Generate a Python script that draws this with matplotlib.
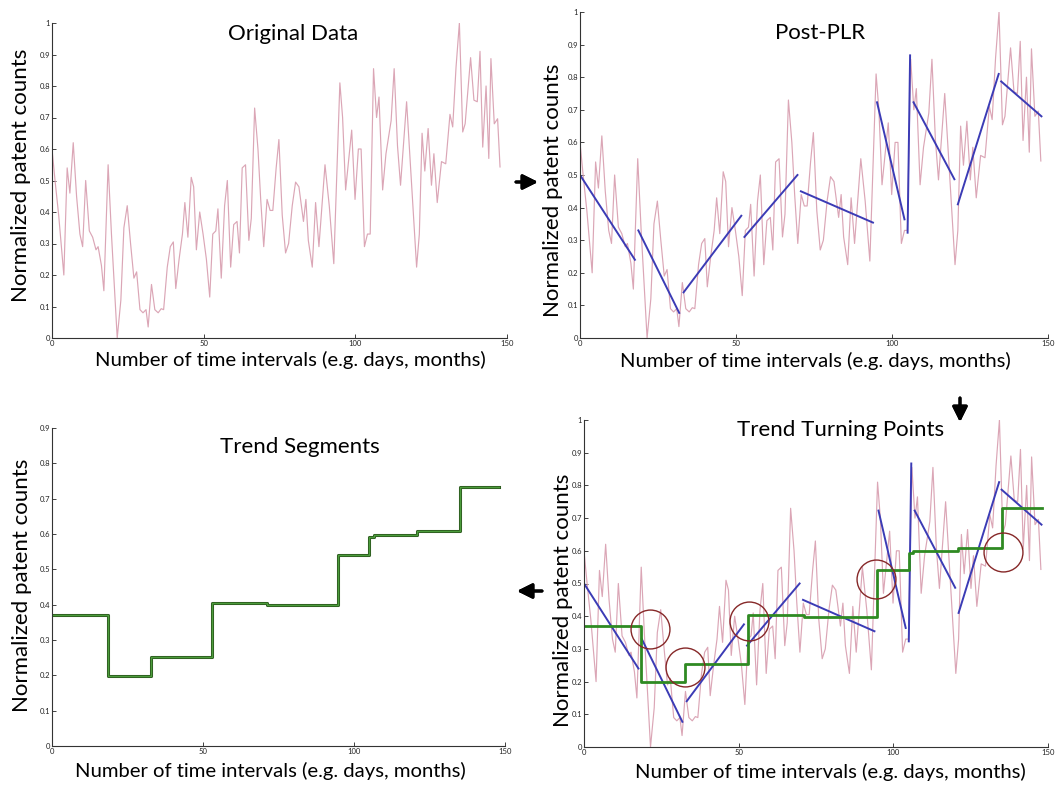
import numpy as np
import matplotlib.pyplot as plt

plt.rcParams['font.family'] = ['Lato', 'DejaVu Sans']

# original (normalized) series
t = [0, 1.0, 2.2, 3.9, 5.0, 5.9, 7.0, 8.1, 9.2, 10.1, 11.1, 12.3, 13.4, 14.5, 15.2,
     16.3, 17.1, 18.5, 19.6, 20.7, 21.5, 22.7, 23.7, 24.8, 25.9, 27.0, 27.9, 29.0,
     30.0, 31.0, 31.7, 32.8, 33.9, 35.0, 36.0, 36.8, 38.0, 39.0, 40.0, 40.8, 41.9,
     43.0, 43.8, 44.8, 45.9, 46.7, 47.6, 48.7, 49.8, 50.9, 52.0, 53.0, 54.0, 54.7,
     55.8, 56.9, 57.8, 58.9, 59.9, 61.0, 61.8, 62.7, 63.8, 64.9, 65.7, 66.8, 67.9,
     68.8, 69.8, 70.9, 71.9, 72.8, 73.9, 74.8, 75.9, 77.0, 78.0, 79.2, 80.3, 81.4,
     82.9, 83.7, 84.5, 85.8, 86.9, 88.0, 90.0, 91.4, 92.9, 94.9, 95.8, 96.8, 98.8,
     99.9, 101.0, 101.9, 103.0, 104.0, 104.9, 106.0, 107.0, 107.8, 109.0, 110.1,
     111.8, 112.8, 113.9, 114.9, 116.9, 118.6, 120.2, 121.1, 122.0, 122.9, 124.0,
     125.1, 125.9, 127.0, 128.4, 129.8, 131.2, 132.1, 133.2, 134.3, 135.4, 136.2,
     138.0, 139.1, 140.2, 141.1, 142.0, 143.1, 144.0, 144.7, 145.8, 146.9, 147.7]
counts = [0.60, 0.50, 0.39, 0.20, 0.54, 0.46, 0.62, 0.45, 0.33, 0.29, 0.50, 0.34, 0.32,
          0.28, 0.29, 0.23, 0.15, 0.55, 0.33, 0.14, 0.0, 0.12, 0.35, 0.42, 0.30, 0.19,
          0.21, 0.09, 0.08, 0.09, 0.035, 0.17, 0.09, 0.08, 0.093, 0.09, 0.225, 0.29,
          0.305, 0.157, 0.25, 0.33, 0.43, 0.32, 0.51, 0.48, 0.28, 0.40, 0.33, 0.25,
          0.13, 0.33, 0.34, 0.41, 0.19, 0.42, 0.50, 0.225, 0.36, 0.37, 0.27, 0.54,
          0.55, 0.31, 0.38, 0.73, 0.60, 0.44, 0.29, 0.44, 0.405, 0.405, 0.54, 0.63,
          0.39, 0.27, 0.30, 0.42, 0.495, 0.48, 0.37, 0.44, 0.31, 0.225, 0.43, 0.29,
          0.55, 0.42, 0.236, 0.81, 0.70, 0.47, 0.66, 0.44, 0.60, 0.60, 0.29, 0.33,
          0.33, 0.855, 0.70, 0.765, 0.47, 0.585, 0.69, 0.855, 0.61, 0.485, 0.75, 0.48,
          0.225, 0.33, 0.65, 0.53, 0.665, 0.485, 0.585, 0.43, 0.56, 0.553, 0.71, 0.67,
          0.86, 1.0, 0.654, 0.68, 0.89, 0.755, 0.75, 0.91, 0.606, 0.80, 0.57, 0.887,
          0.68, 0.696, 0.543]

# piecewise linear representation: (x0, y0, x1, y1)
plr_x0 = [0, 18.7, 33.2, 52.7, 70.8, 95.2, 105.0, 106.9, 121.1, 135.0]
plr_y0 = [0.50, 0.33, 0.14, 0.31, 0.45, 0.723, 0.323, 0.723, 0.41, 0.787]
plr_x1 = [17.6, 31.8, 51.7, 69.7, 93.9, 104.0, 105.8, 120.0, 134.2, 147.9]
plr_y1 = [0.24, 0.077, 0.375, 0.50, 0.354, 0.364, 0.867, 0.487, 0.81, 0.68]

# trend segments (step function)
seg_start = [0, 18.4, 32.7, 52.9, 71.1, 94.8, 105.0, 106.5, 121.0, 135.0]
seg_end = [18.4, 32.7, 52.9, 71.1, 94.8, 105.0, 106.5, 121.0, 135.0, 148.0]
seg_level = [0.371, 0.198, 0.253, 0.404, 0.399, 0.54, 0.592, 0.598, 0.609, 0.732]

# turning points (circled)
tp_x = [21.2, 32.5, 53.3, 94.3, 135.5]
tp_y = [0.362, 0.245, 0.385, 0.515, 0.597]

W, H = 1059, 786
fig = plt.figure(figsize=(W / 100, H / 100), dpi=100)

def box(l, r, b, t):
    return [l / W, 1 - b / H, (r - l) / W, (b - t) / H]

pink = '#dba6b6'
blue = '#3b3bb5'
green = '#2f8a22'

def style(ax, ymax):
    ax.set_xlim(0, 150)
    ax.set_ylim(0, ymax)
    ax.set_xticks([0, 50, 100, 150])
    yt = np.round(np.arange(0, ymax + 0.01, 0.1), 1)
    ax.set_yticks(yt)
    ax.set_yticklabels(['0' if v == 0 else ('1' if v == 1 else str(v)) for v in yt])
    ax.tick_params(direction='in', labelsize=5.5, length=3, width=0.6, pad=1.5,
                   colors='#222222')
    for s in ['top', 'right']:
        ax.spines[s].set_visible(False)
    for s in ['left', 'bottom']:
        ax.spines[s].set_linewidth(0.8)
        ax.spines[s].set_color('#333333')
    ax.patch.set_alpha(0)

step_x = []
step_y = []
for a, b, v in zip(seg_start, seg_end, seg_level):
    step_x += [a, b]
    step_y += [v, v]

# top-left: original data
ax1 = fig.add_axes(box(52, 507, 338, 23))
ax1.plot(t, counts, color=pink, lw=0.85)
style(ax1, 1.0)
ax1.text(0.53, 0.965, 'Original Data', transform=ax1.transAxes, ha='center', va='center', fontsize=16)

# top-right: post-PLR
ax2 = fig.add_axes(box(580, 1048, 338, 12))
ax2.plot(t, counts, color=pink, lw=0.85)
for x0, y0, x1, y1 in zip(plr_x0, plr_y0, plr_x1, plr_y1):
    ax2.plot([x0, x1], [y0, y1], color=blue, lw=1.4)
style(ax2, 1.0)
ax2.text(0.513, 0.935, 'Post-PLR', transform=ax2.transAxes, ha='center', va='center', fontsize=16)

# bottom-left: trend segments
ax3 = fig.add_axes(box(52, 505, 746, 428))
ax3.plot(step_x, step_y, color='#2a561c', lw=2.2)
ax3.plot(step_x, step_y, color='#4c9c3c', lw=1.0)
style(ax3, 0.9)
ax3.text(0.547, 0.94, 'Trend Segments', transform=ax3.transAxes, ha='center', va='center', fontsize=16)

# bottom-right: trend turning points
ax4 = fig.add_axes(box(584, 1048, 747, 420))
ax4.plot(t, counts, color=pink, lw=0.85)
for x0, y0, x1, y1 in zip(plr_x0, plr_y0, plr_x1, plr_y1):
    ax4.plot([x0, x1], [y0, y1], color=blue, lw=1.4)
ax4.plot(step_x, step_y, color=green, lw=2.0)
ax4.plot(tp_x, tp_y, 'o', mfc='none', mec='#862828', ms=28, mew=1.0)
style(ax4, 1.0)
ax4.text(0.552, 0.968, 'Trend Turning Points', transform=ax4.transAxes, ha='center', va='center', fontsize=16)

# axis labels in figure pixels
xl = 'Number of time intervals (e.g. days, months)'
yl = 'Normalized patent counts'
for x, y in [(290, 360), (815, 361), (270, 771), (830, 772)]:
    fig.text(x / W, 1 - y / H, xl, ha='center', va='center', fontsize=14.6)
for x, y in [(21, 175), (553, 190), (22, 585), (563, 600)]:
    fig.text(x / W, 1 - y / H, yl, ha='center', va='center', rotation=90, fontsize=16)

# flow arrows
arr = dict(arrowstyle='-|>,head_length=0.9,head_width=0.45', color='black', lw=2.2,
           shrinkA=0, shrinkB=0)
fig.add_artist(plt.annotate('', xy=(538 / W, 1 - 182 / H), xytext=(516 / W, 1 - 182 / H),
                            xycoords='figure fraction', arrowprops=arr))
fig.add_artist(plt.annotate('', xy=(960 / W, 1 - 422 / H), xytext=(960 / W, 1 - 398 / H),
                            xycoords='figure fraction', arrowprops=arr))
fig.add_artist(plt.annotate('', xy=(517 / W, 1 - 591 / H), xytext=(542 / W, 1 - 591 / H),
                            xycoords='figure fraction', arrowprops=arr))

fig.savefig('out.png', dpi=100)
